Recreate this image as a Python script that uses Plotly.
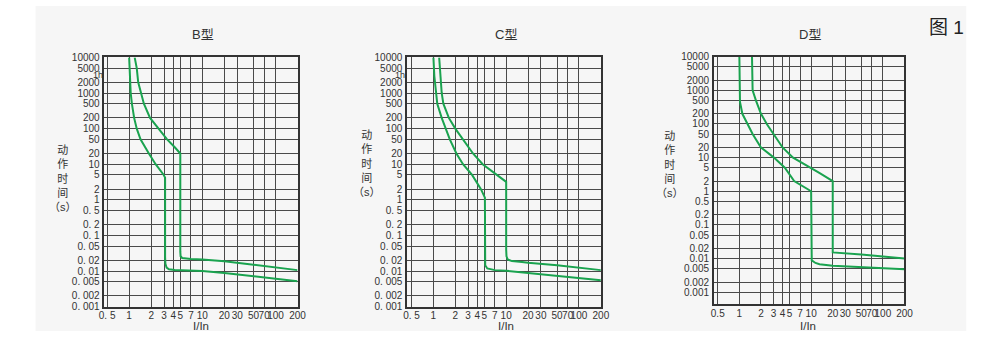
import plotly.graph_objects as go
import math

# ---------------- data ----------------
panel_titles = ["B型", "C型", "D型"]

x_tick_vals = [0.5, 1, 2, 3, 4, 5, 7, 10, 20, 30, 50, 70, 100, 200]
x_tick_text_bc = ["0. 5", "1", "2", "3", "4", "5", "7", "10", "20", "30", "50", "70", "100", "200"]
x_tick_text_d = ["0.5", "1", "2", "3", "4", "5", "7", "10", "20", "30", "50", "70", "100", "200"]

y_tick_vals = [10000, 5000, 2000, 1000, 500, 200, 100, 50, 20, 10, 5, 2, 1,
               0.5, 0.2, 0.1, 0.05, 0.02, 0.01, 0.005, 0.002, 0.001]
y_tick_text_bc = ["10000", "5000", "2000", "1000", "500", "200", "100", "50", "20", "10", "5", "2", "1",
                  "0. 5", "0. 2", "0. 1", "0. 05", "0. 02", "0. 01", "0. 005", "0. 002", "0. 001"]
y_tick_text_d = ["10000", "5000", "2000", "1000", "500", "200", "100", "50", "20", "10", "5", "2", "1",
                 "0.5", "0.2", "0.1", "0.05", "0.02", "0.01", "0.005", "0.002", "0.001"]
hour_label = "1h"
hour_value = 3600

# B type
b_low_x = [1.0, 1.02, 1.05, 1.09, 1.17, 1.27, 1.43, 1.86, 2.3, 2.97, 3.1, 3.1, 3.13, 3.25, 3.5, 4.2, 5, 10, 20, 50, 100, 200]
b_low_y = [10000, 3000, 1000, 500, 200, 100, 50, 20, 10, 5, 4.2, 0.025, 0.016, 0.0125, 0.0112, 0.0107, 0.0106, 0.0100, 0.0088, 0.0072, 0.0061, 0.0052]
b_up_x = [1.19, 1.27, 1.33, 1.46, 1.59, 1.93, 2.54, 3.3, 4.2, 5.0, 5.0, 5.05, 5.3, 6.0, 7, 10, 20, 50, 100, 200]
b_up_y = [10000, 5000, 2000, 1000, 500, 200, 100, 50, 30, 20, 0.035, 0.026, 0.0232, 0.0222, 0.0218, 0.021, 0.0187, 0.015, 0.0128, 0.0106]

# C type
c_low_x = [1.0, 1.03, 1.09, 1.13, 1.3, 1.48, 1.68, 2.07, 2.55, 3.4, 4.5, 5.1, 5.1, 5.15, 5.5, 6.2, 7, 10, 20, 50, 100, 200]
c_low_y = [10000, 3000, 1000, 500, 200, 100, 50, 20, 10, 5, 2, 1.15, 0.022, 0.0145, 0.0118, 0.011, 0.0106, 0.0102, 0.0088, 0.0075, 0.0065, 0.0055]
c_up_x = [1.2, 1.25, 1.3, 1.37, 1.63, 2.0, 2.55, 3.5, 4.75, 7.6, 10, 10, 10.1, 10.5, 12, 16.5, 20, 50, 100, 200]
c_up_y = [10000, 3000, 1000, 500, 200, 100, 50, 20, 10, 5, 3.2, 0.04, 0.026, 0.021, 0.019, 0.018, 0.0171, 0.0145, 0.0125, 0.0106]

# D type
d_low_x = [1.0, 1.0, 1.0, 1.02, 1.1, 1.29, 1.53, 2.0, 3.03, 4.3, 5.8, 10, 10, 10.2, 11.5, 13.1, 20, 50, 100, 200]
d_low_y = [10000, 2000, 700, 450, 200, 100, 50, 20, 10, 5, 2, 1, 0.012, 0.0088, 0.0074, 0.0068, 0.0061, 0.0056, 0.0052, 0.0048]
d_up_x = [1.5, 1.52, 1.53, 1.7, 2.0, 2.41, 3.0, 4.0, 5.6, 10, 13, 20, 20, 50, 100, 200]
d_up_y = [10000, 2000, 1000, 500, 200, 100, 50, 20, 10, 5, 3.5, 2, 0.0152, 0.0132, 0.0113, 0.0101]

curves = [
    (b_low_x, b_low_y, b_up_x, b_up_y),
    (c_low_x, c_low_y, c_up_x, c_up_y),
    (d_low_x, d_low_y, d_up_x, d_up_y),
]

# ---------------- layout helpers ----------------
W, H = 991, 338
def px(x):
    return x / W
def py(y):
    return 1 - y / H

# pixel boxes of the three plot areas (left, right, top, bottom)
boxes = [(100, 296, 53.3, 311.7), (407.3, 604, 53.3, 311.7), (718.7, 912.3, 52.5, 309.3)]
x_ranges = [[-0.337, math.log10(200)], [-0.361, math.log10(200)], [-0.356, math.log10(200)]]
y_ranges = [[-3, 4], [-3, 4], [-3.36, 4]]
title_x = [200, 508, 816]
ylab_x = [58, 367, 674]
ylab_y = [179, 163, 164]
xlab_x = [198, 508, 814]

GREEN = "#1aa34f"
GRID = "#4a4a4a"
TXT = "#333333"
FONT = "Liberation Sans, Arial, Noto Sans CJK SC, sans-serif"

fig = go.Figure()
layout = dict(
    width=W, height=H,
    margin=dict(l=0, r=0, t=0, b=0),
    paper_bgcolor="white",
    plot_bgcolor="rgba(0,0,0,0)",
    showlegend=False,
    font=dict(family=FONT, color=TXT, size=10),
)

shapes = [dict(type="rect", xref="paper", yref="paper", x0=px(30), x1=px(975), y0=py(337), y1=1,
               fillcolor="#f6f6f6", line=dict(width=0), layer="below")]
annotations = []

for i in range(3):
    l, r, t, b = boxes[i]
    sfx = "" if i == 0 else str(i + 1)
    xa = "xaxis" + sfx
    ya = "yaxis" + sfx
    xt = x_tick_text_d if i == 2 else x_tick_text_bc
    yt = y_tick_text_d if i == 2 else y_tick_text_bc
    layout[xa] = dict(
        type="log", domain=[px(l), px(r)], range=x_ranges[i], anchor="y" + sfx,
        tickvals=x_tick_vals, ticktext=xt, ticks="", showgrid=True,
        gridcolor=GRID, gridwidth=1.4, showline=True, mirror=True,
        linecolor="#333333", linewidth=1.6, zeroline=False,
        tickfont=dict(size=10, color=TXT, family=FONT), tickangle=0,
        ticklabelstandoff=-1, fixedrange=True,
    )
    layout[ya] = dict(
        type="log", domain=[py(b), py(t)], range=y_ranges[i], anchor="x" + sfx,
        tickvals=y_tick_vals, ticktext=yt, ticks="", showgrid=True,
        gridcolor=GRID, gridwidth=1.4, showline=True, mirror=True,
        linecolor="#333333", linewidth=1.6, zeroline=False,
        tickfont=dict(size=10, color=TXT, family=FONT),
        ticklabelstandoff=1, fixedrange=True,
    )
    lx, ly, ux, uy = curves[i]
    for cx, cy in ((lx, ly), (ux, uy)):
        fig.add_trace(go.Scatter(x=cx, y=cy, mode="lines", xaxis="x" + sfx, yaxis="y" + sfx,
                                 line=dict(color=GREEN, width=2), hoverinfo="skip"))
    # panel title
    annotations.append(dict(text=panel_titles[i], x=px(title_x[i]), y=py(30), xref="paper", yref="paper",
                            showarrow=False, xanchor="center", yanchor="middle",
                            font=dict(size=13, color=TXT, family=FONT)))
    # y-axis title (vertical stacked)
    annotations.append(dict(text="动<br>作<br>时<br>间<br>（s）", x=px(ylab_x[i]), y=py(ylab_y[i]),
                            xref="paper", yref="paper", showarrow=False, xanchor="center", yanchor="middle",
                            align="center", font=dict(size=11, color=TXT, family=FONT)))
    # x-axis title
    annotations.append(dict(text="I/In", x=px(xlab_x[i]), y=0, xref="paper", yref="paper",
                            showarrow=False, xanchor="center", yanchor="bottom", yshift=-1, borderpad=0,
                            font=dict(size=11.5, color=TXT, family=FONT)))
    if i < 2:
        annotations.append(dict(text=hour_label, x=px(l - 1), y=math.log10(hour_value), xref="paper",
                                yref="y" + sfx, showarrow=False, xanchor="right", yanchor="middle",
                                yshift=-2, borderpad=0, font=dict(size=9, color=TXT, family=FONT)))

annotations.append(dict(text="图 1", x=px(955), y=py(22), xref="paper", yref="paper", showarrow=False,
                        xanchor="center", yanchor="middle", font=dict(size=19, color="#222222", family=FONT)))

layout["shapes"] = shapes
layout["annotations"] = annotations
fig.update_layout(**layout)
fig.write_html("out.html", config={"displayModeBar": False},
               post_script="document.body.style.margin='0';document.body.style.padding='0';")
